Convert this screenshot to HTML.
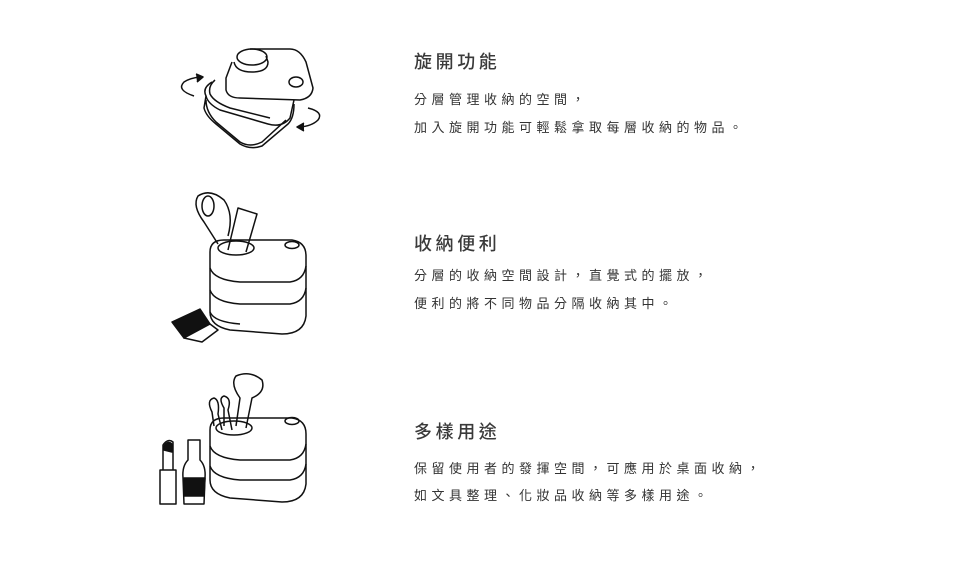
<!DOCTYPE html>
<html><head><meta charset="utf-8"><style>
body{margin:0;background:#fff;width:960px;height:563px;position:relative;overflow:hidden;font-family:"Liberation Sans","Noto Sans CJK TC",sans-serif;color:#333}
.t{position:absolute;left:414px;font-size:18px;letter-spacing:3.6px;font-weight:500;line-height:20px;color:#3a3a3a}
.b{position:absolute;left:414px;font-size:13px;letter-spacing:4.5px;line-height:16px;color:#333}
svg{position:absolute;left:0;top:0}
</style></head><body>
<div class="t" style="top:52px">旋開功能</div>
<div class="b" style="top:92px">分層管理收納的空間，</div>
<div class="b" style="top:120px">加入旋開功能可輕鬆拿取每層收納的物品。</div>
<div class="t" style="top:234px">收納便利</div>
<div class="b" style="top:268px">分層的收納空間設計，直覺式的擺放，</div>
<div class="b" style="top:296px">便利的將不同物品分隔收納其中。</div>
<div class="t" style="top:422px">多樣用途</div>
<div class="b" style="top:461px">保留使用者的發揮空間，可應用於桌面收納，</div>
<div class="b" style="top:488px">如文具整理、化妝品收納等多樣用途。</div>
<svg width="960" height="563" fill="none" stroke="#111" stroke-width="1.5" stroke-linejoin="round">
<!-- section 1 -->
<path d="M212 82 Q202 88 206 96 L204 108 Q206 116 216 124 L240 144 Q250 150 262 146 L288 124 Q294 118 294 104"/>
<path d="M206 100 Q206 112 216 122 L240 142 Q250 148 262 142 L286 120"/>
<path d="M206 96 Q208 104 220 110 L268 124 Q282 128 290 118 L294 100"/>
<path d="M215 80 Q208 86 210 94 Q214 102 230 108 L270 118"/>
<path d="M232 62 L226 78 L226 90 Q228 98 240 98 L300 100 Q312 98 313 88 L306 62 Q300 49 290 49 L250 49"/>
<path d="M234 62 Q236 72 252 72 Q268 72 268 62 L266 56"/>
<ellipse cx="252" cy="57" rx="15" ry="8"/>
<ellipse cx="296" cy="82" rx="7" ry="5"/>
<path d="M194 96 Q176 90 184 82 Q190 78 200 77"/><path d="M196 74 L203 77 L197 82" fill="#111"/>
<path d="M308 108 Q324 112 318 120 Q312 126 300 127"/><path d="M304 123 L297 127 L304 131" fill="#111"/>
<!-- section 2 box -->
<path d="M210 252 Q210 240 224 240 L292 240 Q306 242 306 256 L306 316 Q304 334 282 334 L230 330 Q210 326 210 312 Z"/>
<path d="M210 268 Q214 280 240 282 L290 282 Q304 280 306 266"/>
<path d="M210 290 Q214 302 240 304 L290 304 Q304 302 306 288"/>
<path d="M210 312 Q214 322 240 324"/>
<ellipse cx="236" cy="248" rx="18" ry="7"/>
<ellipse cx="292" cy="245" rx="7" ry="3.5"/>
<path d="M228 250 L238 208 L257 214 L246 252"/>
<path d="M218 244 L204 222 Q192 206 198 196 Q210 188 224 200 Q234 214 228 236"/>
<ellipse cx="208" cy="206" rx="6" ry="10"/>
<path d="M172 322 L200 309 L210 324 L184 338 Z" fill="#111"/>
<path d="M184 338 L210 324 L218 330 L202 342 Z" fill="#fff"/>
<!-- section 3 box -->
<path d="M210 430 Q210 418 224 418 L292 418 Q306 420 306 434 L306 484 Q304 502 282 502 L230 498 Q210 494 210 480 Z"/>
<path d="M210 446 Q214 458 240 460 L290 460 Q304 458 306 444"/>
<path d="M210 466 Q214 478 240 480 L290 480 Q304 478 306 464"/>
<ellipse cx="234" cy="428" rx="18" ry="7"/>
<ellipse cx="292" cy="421" rx="7" ry="3.5"/>
<path d="M236 426 L240 398 Q230 384 236 376 Q250 370 262 380 Q266 392 252 398 L246 428"/>
<path d="M214 426 L212 412 Q206 400 214 398 Q220 400 218 414 L222 430"/>
<path d="M224 426 L224 408 Q218 398 224 396 Q232 398 228 410 L232 430"/>
<path d="M160 470 L160 504 L176 504 L176 470 Z M163 470 L163 445 Q168 438 173 442 L173 470"/>
<path d="M164 446 Q168 440 172 444 L172 452 L164 450Z" fill="#111"/>
<path d="M188 440 L188 460 Q182 466 183 478 L184 504 L204 504 L205 478 Q206 466 200 460 L200 440Z"/>
<path d="M184 478 L205 478 L204 496 L184 496Z" fill="#111"/>
</svg>
</body></html>
